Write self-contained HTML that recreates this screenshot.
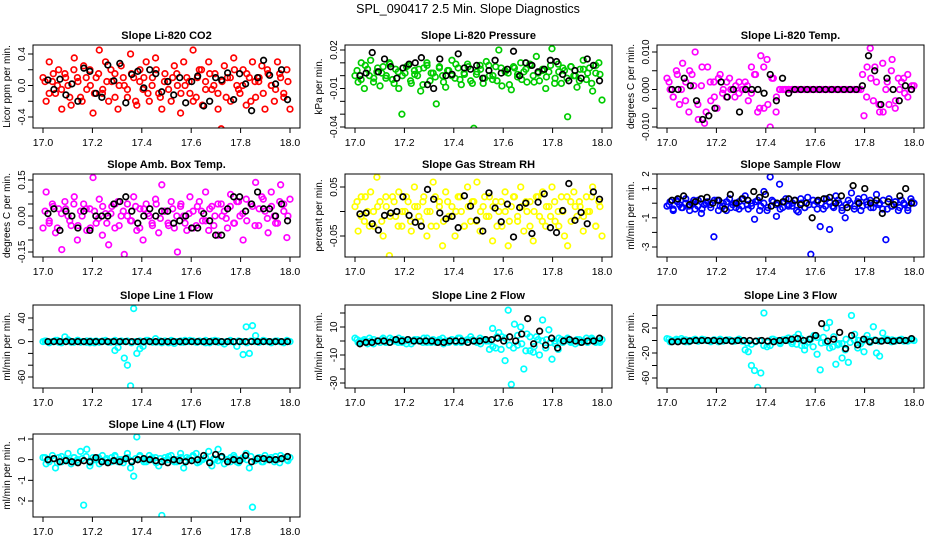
<!DOCTYPE html>
<html><head><meta charset="utf-8"><style>
body{margin:0;background:#fff}
svg{display:block;font-family:"Liberation Sans",sans-serif}
</style></head><body>
<svg id="chart" width="936" height="540">
<text x="468" y="13" text-anchor="middle" font-size="12.5">SPL_090417  2.5 Min. Slope Diagnostics</text>
</svg>
<script>
const xTicks=[17.0,17.2,17.4,17.6,17.8,18.0];
const xTickLabels=["17.0","17.2","17.4","17.6","17.8","18.0"];

const co2Vals=[0.1,-0.2,0.3,0.05,-0.1,0.2,-0.3,0.15,0,-0.25,0.35,0.1,-0.15,0.25,-0.05,0.2,-0.35,0.1,0.45,-0.1,0.3,-0.2,0.05,0.15,-0.3,0.25,0,-0.15,0.4,0.1,-0.25,0.2,-0.05,0.3,-0.2,0.1,0.35,-0.1,-0.3,0.15,0.05,-0.2,0.25,0,-0.35,0.3,0.1,-0.1,0.45,-0.15,0.2,-0.25,0.05,0.3,-0.05,0.15,-0.3,-0.55,0.25,0.1,-0.2,0.35,0,-0.1,0.2,-0.25,0.1,0.3,-0.15,0.05,0.25,-0.3,0.15,0,-0.2,0.3,0.1,-0.1,0.2,-0.3];
const co2Core=[0.05,-0.1,0.15,0,-0.05,0.1,-0.15,0.2,0.05,-0.2,0.1,0,-0.1,0.15,-0.05,0.05,0.2,-0.15,0,0.1,-0.05,0.15,-0.2,0.05,0.1,-0.1,0,0.2,-0.15,0.05,-0.05,0.1,0.15,-0.1,0,0.05,-0.2,0.1,0.2,-0.05,0.15,0,-0.1,0.05,-0.15,0.1,0.2,-0.05,0,0.15,-0.2,0.05,0.1,-0.1,0.2,0,-0.05,0.15,-0.15,0.05];
const co2Black=[0.07,-0.05,0.08,-0.12,0.02,-0.2,0.22,0.18,-0.1,-0.15,0.26,0.06,0.28,-0.22,0.14,0.18,-0.03,0.2,0.15,-0.08,0.05,-0.12,0.1,-0.22,0.05,0.12,-0.26,-0.2,0.1,0.07,0.16,-0.18,0.15,0.02,-0.32,0.1,0.32,0.13,0.02,0.2,-0.18];

const presVals=[0.0,-0.005,0.01,-0.01,0.005,0.012,-0.002,0.003,-0.008,0.007,0.0,0.01,-0.003,0.005,-0.01,-0.03,0.002,0.008,-0.006,0.004,0.0,-0.012,0.006,0.01,-0.004,0.002,-0.022,0.007,0.0,-0.009,0.004,0.012,-0.002,0.006,-0.007,0.001,0.009,-0.004,-0.041,0.003,0.008,-0.006,0.011,0.0,-0.003,0.007,0.02,-0.008,0.004,0.002,-0.011,0.006,-0.001,0.01,0.003,-0.005,0.008,0.0,0.015,-0.004,0.005,-0.01,0.003,0.021,-0.002,0.009,-0.006,0.004,-0.032,0.007,0.0,-0.009,0.005,0.012,-0.003,0.006,-0.012,0.002,0.01,-0.019];
const presCore=[0.004,-0.003,0.008,0.0,-0.005,0.006,0.002,-0.002,0.009,-0.006,0.003,0.0,0.007,-0.004,0.001,0.005,-0.007,0.008,0.002,-0.001,0.006,-0.005,0.004,0.0,0.009,-0.003,0.002,0.007,-0.006,0.001,0.005,-0.002,0.008,0.0,-0.004,0.006,0.003,-0.007,0.007,0.001,-0.003,0.005,0.009,-0.005,0.002,0.004,-0.001,0.008,-0.006,0.003,0.006,-0.002,0.007,0.0,-0.004,0.005,0.002,-0.006,0.008,0.001];
const presBlack=[0.0,0.002,0.018,0.003,0.013,0.007,-0.002,0.006,0.009,0.01,0.014,-0.007,-0.01,0.013,0.0,0.001,0.017,0.006,0.005,0.008,-0.002,0.004,0.012,0.002,0.005,0.019,0.0,0.01,0.008,0.003,0.005,0.012,0.011,0.001,-0.004,0.004,-0.002,0.013,0.008,-0.004];

const tempVals=[0.003,0.0,-0.002,0.005,-0.004,0.007,0.002,-0.006,0.004,0.01,-0.008,0.001,-0.009,0.006,-0.003,0.002,-0.005,0.004,0.0,-0.002,0.003,0.0,0.001,-0.001,0.0,0.002,-0.003,0.006,0.004,-0.006,0.009,-0.005,0.008,-0.01,0.003,-0.002,0,0,0,0,0,0,0,0,0,0,0,0,0,0,0,0,0,0,0,0,0,0,0,0,0,0,0.0,-0.007,0.006,0.011,-0.003,0.002,-0.006,0.007,0.0,-0.004,0.008,-0.005,0.003,0.002,-0.001,0.004,0.0,0.001];
const tempCore=[0.002,-0.002,0.004,0.0,-0.003,0.005,0.001,-0.004,0.006,-0.006,0.002,-0.002,0.003,-0.001,0.002,0.0,-0.002,0.002,0.0,0.001,-0.001,0.004,-0.005,0.006,-0.004,0.003,-0.006,0,0,0,0,0,0,0,0,0,0,0,0,0,0,0,0,0,0,0,0,0.004,-0.002,0.003,0.006,-0.004,-0.006,0.002,0.005,-0.003,0.0,0.003,-0.002,0.001];
const tempBlack=[0,0,0.003,0.001,-0.003,-0.008,-0.007,-0.005,0.002,-0.002,0,-0.006,0,0,0,-0.001,0.004,-0.003,0.003,-0.001,0,0,0,0,0,0,0,0,0,0,0,0.001,0.009,0.005,-0.004,0.003,0,-0.003,0.001,0];

const ambVals=[-0.05,0.1,-0.02,0.05,-0.07,0.03,-0.14,0.06,0.0,-0.04,0.08,-0.1,0.02,0.05,-0.06,0.03,0.16,-0.03,0.07,-0.08,0.01,-0.12,0.04,-0.05,0.06,0.0,-0.16,0.05,-0.02,0.08,-0.06,0.03,-0.1,0.05,0.0,-0.04,0.07,-0.07,0.13,0.02,-0.03,0.06,-0.05,-0.15,0.04,0.0,-0.06,0.08,0.02,-0.04,0.06,-0.02,0.1,-0.06,0.04,0.0,-0.08,0.05,0.02,-0.05,0.09,-0.03,0.06,0.0,-0.1,0.07,-0.2,0.04,0.14,-0.04,0.08,0.02,-0.07,0.1,0.0,-0.03,0.13,0.05,-0.09,0.07];
const ambCore=[0.02,-0.03,0.04,-0.05,0.01,0.03,-0.02,0.05,-0.04,0.0,0.03,-0.05,0.02,-0.01,0.04,-0.03,0.01,0.05,-0.04,0.02,0.0,-0.02,0.04,-0.05,0.03,0.01,-0.03,0.05,-0.01,0.02,-0.04,0.03,0.0,0.05,-0.03,0.01,-0.05,0.04,0.02,-0.02,0.03,-0.04,0.05,0.0,-0.01,0.04,-0.03,0.06,0.01,-0.02,0.05,-0.04,0.03,0.07,-0.01,0.04,-0.03,0.06,0.02,0.0];
const ambBlack=[0.01,0.03,-0.06,0.02,0.0,-0.05,0.02,-0.06,0.0,0.0,0.0,0.05,0.06,0.08,0.02,-0.03,0.0,0.03,0.0,0.02,0.02,-0.03,-0.02,0.0,-0.05,-0.05,0.01,-0.02,-0.08,-0.08,0.03,0.08,0.08,0.02,0.05,0.1,0.03,0.03,0.0,0.05,-0.02];

const rhVals=[0.01,-0.04,0.03,-0.02,0.0,0.04,-0.03,0.07,0.02,-0.05,0.01,-0.09,0.03,-0.01,0.04,-0.03,0.0,0.02,-0.04,0.05,0.01,-0.02,0.03,-0.05,0.0,0.06,-0.03,0.02,-0.07,0.04,-0.01,0.01,-0.05,0.03,0.0,-0.03,0.05,-0.02,0.02,0.06,-0.04,0.01,-0.01,0.03,-0.06,0.02,0.0,-0.03,0.04,-0.07,0.01,0.03,-0.02,0.05,-0.04,0.0,0.02,-0.06,0.03,-0.01,0.04,-0.03,0.01,0.05,-0.02,0.0,0.03,-0.05,-0.07,0.02,0.04,-0.01,0.01,-0.04,0.03,0.0,0.05,-0.03,0.02,-0.05];
const rhCore=[0.02,-0.01,0.03,-0.03,0.0,0.01,-0.02,0.03,-0.01,0.02,-0.03,0.0,0.03,-0.02,0.01,-0.01,0.02,0.0,-0.03,0.03,0.01,-0.02,0.02,-0.01,0.0,0.03,-0.03,0.01,0.02,-0.02,0.0,0.03,-0.01,0.01,-0.03,0.02,0.0,-0.02,0.03,-0.01,0.01,0.02,-0.03,0.0,0.03,-0.02,0.01,-0.01,0.02,-0.03,0.0,0.03,-0.02,0.01,0.02,-0.01,0.0,0.03,-0.03,0.01];
const rhBlack=[-0.005,-0.003,-0.025,-0.038,-0.008,-0.003,0.0,0.03,-0.008,-0.022,-0.03,0.045,0.025,-0.003,-0.015,-0.01,-0.033,0.032,0.011,-0.018,-0.04,0.038,0.007,-0.021,0.015,-0.052,0.008,0.017,-0.045,0.019,0.036,-0.033,-0.043,0.002,0.057,-0.018,-0.002,-0.025,0.04,0.025];

const sampVals=[-0.2,0.1,-0.5,0.2,-0.1,-0.3,0.3,-0.2,0.0,-0.4,0.2,-0.7,-0.1,0.1,-0.3,-2.3,0.2,-0.2,0.0,-0.5,0.3,-0.1,-0.3,0.1,-0.2,0.5,-0.4,0.0,-1.1,0.2,-0.2,0.8,-0.5,1.8,0.1,-0.9,1.3,-0.3,0.3,-0.1,-0.2,0.2,-0.6,0.0,-0.3,0.4,-3.5,-0.1,0.1,-1.6,-0.4,0.3,-1.8,-0.2,0.5,0.0,-0.3,-1.0,0.2,0.7,-0.2,0.1,-0.5,0.4,-0.1,0.2,-0.3,0.6,0.0,-0.4,-2.5,0.3,-0.2,0.1,-0.5,0.2,-0.1,-0.3,0.3,0.0];
const sampCore=[-0.1,-0.4,0.1,-0.3,0.0,-0.5,0.2,-0.2,-0.4,0.0,-0.1,0.2,-0.5,-0.2,0.1,-0.3,0.0,-0.4,0.3,-0.1,-0.2,0.1,-0.5,0.0,-0.3,0.2,-0.1,-0.4,0.1,-0.2,0.0,-0.5,0.3,-0.3,-0.1,0.2,-0.4,0.0,-0.2,0.1,-0.3,0.2,-0.5,-0.1,0.0,-0.4,0.3,-0.2,0.1,-0.3,0.0,-0.1,0.2,-0.4,-0.2,0.1,-0.3,0.0,-0.5,0.1];
const sampBlack=[0.2,0.3,0.5,-0.1,0.1,0.3,0.4,0.0,0.2,-0.4,0.6,0.0,0.3,0.2,0.8,0.4,0.6,-0.2,0.0,0.1,0.3,0.2,-0.1,0.0,-1.0,0.2,0.3,0.4,0.0,0.5,-0.3,1.2,0.0,1.0,0.0,0.2,-0.7,0.1,-0.1,0.5,1.0,0.0];

const line1Vals=[0,1,-2,0,2,-1,0,8,3,-1,0,2,-1,0,1,-2,0,1,-1,0,2,-1,0,-15,-10,1,-28,-40,-75,56,-20,-12,-8,2,0,-1,5,0,-2,1,0,2,-3,0,1,-1,0,2,0,-1,1,0,-2,0,1,2,-1,0,-4,0,0,0,-8,0,-22,25,-20,27,10,-1,0,1,0,-2,0,1,0,-1,2,0];
const line1Core=[1,-1,0,2,-2,0,1,-1,2,0,-1,1,-2,0,1,0,-1,2,-1,0,1,-2,0,1,-1,2,0,-1,1,0,-2,1,0,-1,2,0,1,-1,0,2,-2,0,1,-1,0,2,-1,1,0,-2,1,0,-1,2,0,-1,1,0,-2,1];
const line1Black=[0,0,0,0,0,0,0,0,0,0,0,0,0,0,0,0,0,0,0,0,0,0,0,0,0,0,0,0,0,0,0,0,0,0,0,0,0,0,0,0,0];

const line2Vals=[2,-1,0,1,-2,0,1,0,-1,2,0,-1,1,0,2,-1,0,1,-2,0,1,0,2,-1,0,1,-1,0,2,0,-1,1,0,2,-1,0,1,3,0,-1,2,1,0,-6,9,-5,6,3,-14,22,-31,12,-3,10,-20,5,-7,-8,3,-10,15,-5,8,-13,-2,-6,1,0,2,-1,0,1,-1,0,2,0,1,-1,0,1];
const line2Core=[1,-1,0,2,-2,0,1,-1,2,0,-1,1,-2,0,1,0,-1,2,-1,0,1,-2,0,1,-1,2,0,-1,1,0,-2,1,0,-4,3,-6,2,-3,-5,4,-2,-7,3,-4,1,0,1,-1,0,2,-1,1,0,-2,1,0,-1,2,0,-1];
const line2Black=[-2,-1,-1,0,0,-1,1,0,1,0,0,0,0,-1,-1,0,0,0,-1,0,0,1,1,2,0,3,0,5,16,-2,7,-3,2,-5,0,1,0,-1,0,0,2];

const line3Vals=[3,-2,0,2,-1,0,1,-2,0,2,-1,0,1,0,-2,1,0,2,-1,0,1,-1,0,2,-1,-15,-18,-40,-48,-75,-52,44,-10,-8,2,0,-3,1,2,0,-5,5,10,-8,-15,-3,2,8,-22,-47,5,20,29,-10,-38,-5,-28,-15,-35,40,10,-12,-5,-18,8,-3,22,-20,-25,12,2,0,1,-1,0,2,0,-1,1,0];
const line3Core=[2,-1,0,3,-2,0,1,-1,2,0,-1,1,-2,0,1,0,-1,2,-1,-4,-6,-2,0,-8,-3,2,0,-5,1,4,-2,-6,3,-8,2,-10,5,-4,-3,-12,6,-7,-5,2,-3,1,0,-1,2,0,1,-1,0,2,-2,0,1,-1,0,1];
const line3Black=[-2,-2,-1,-1,0,0,0,0,-1,0,-1,0,0,0,-1,0,-1,-2,0,0,2,3,0,2,8,27,-1,2,13,-13,8,-7,2,-2,0,-1,0,-1,0,0,3];

const line4Vals=[0.1,-0.2,0.0,0.2,-0.4,0.1,-0.1,0.0,0.3,-0.2,0.1,0.0,0.4,-2.2,0.5,-0.3,0.1,0.0,-0.2,0.2,0.0,-0.1,0.1,0.2,-0.1,0.0,0.0,0.3,-0.4,-0.8,1.1,0.2,0.0,-0.1,0.2,0.0,0.1,-0.3,-2.7,0.1,0.0,0.2,-0.1,0.0,0.3,-0.4,0.1,0.0,0.2,0.3,-0.1,0.0,0.1,0.4,-0.3,0.0,0.5,0.1,-0.2,0.0,0.1,0.2,-0.1,0.0,0.1,0.3,-0.4,-2.3,0.0,0.1,-0.1,0.2,0.0,0.1,-0.1,0.0,0.2,0.1,0.0,0.1];
const line4Core=[0.1,-0.1,0.05,-0.15,0.15,0.0,-0.05,0.1,-0.1,0.05,0.15,-0.15,0.0,0.1,-0.05,0.05,-0.1,0.15,0.0,-0.15,0.1,-0.05,0.05,0.15,-0.1,0.0,0.1,-0.15,0.05,-0.05,0.15,0.0,-0.1,0.1,-0.05,0.05,0.15,-0.15,0.0,0.1,-0.1,0.05,-0.05,0.15,0.0,-0.1,0.1,-0.15,0.05,0.0,0.15,-0.05,0.1,-0.1,0.05,0.0,0.15,-0.15,0.1,-0.05];
const line4Black=[0.0,0.05,-0.1,-0.05,-0.1,-0.15,-0.05,-0.1,0.1,-0.1,-0.15,-0.05,-0.1,0.05,-0.1,0.0,0.05,0.0,-0.05,-0.1,-0.15,0.0,-0.05,-0.1,-0.05,0.0,0.2,-0.15,0.25,0.15,-0.1,0.0,-0.05,0.2,-0.1,0.05,0.05,0.0,0.0,0.05,0.15];

const NS="http://www.w3.org/2000/svg";
const svg=document.getElementById('chart');
function mk(tag,attrs,parent){const e=document.createElementNS(NS,tag);for(const k in attrs)e.setAttribute(k,attrs[k]);(parent||svg).appendChild(e);return e;}

const panels=[
 {c:0,r:0,t:"Slope Li-820 CO2",yl:"Licor ppm per min.",col:"#ff0000",v:co2Vals,k:co2Core,b:co2Black,v1:0.4,p1:54,v2:-0.4,p2:117,ticks:[-0.4,-0.2,0,0.2,0.4],labs:{"-0.4":"-0.4","0":"0.0","0.4":"0.4"}},
 {c:1,r:0,t:"Slope Li-820 Pressure",yl:"kPa per min.",col:"#00cc00",v:presVals,k:presCore,b:presBlack,v1:0.02,p1:50,v2:-0.04,p2:127,ticks:[-0.04,-0.03,-0.02,-0.01,0,0.01,0.02],labs:{"-0.04":"-0.04","-0.01":"-0.01","0.02":"0.02"}},
 {c:2,r:0,t:"Slope Li-820 Temp.",yl:"degrees C per min.",col:"#ff00ff",v:tempVals,k:tempCore,b:tempBlack,v1:0.01,p1:52,v2:-0.01,p2:127,ticks:[-0.01,-0.005,0,0.005,0.01],labs:{"-0.01":"-0.010","0":"0.000","0.01":"0.010"}},
 {c:0,r:1,t:"Slope Amb. Box Temp.",yl:"degrees C per min.",col:"#ff00ff",v:ambVals,k:ambCore,b:ambBlack,v1:0.15,p1:180,v2:-0.15,p2:252,ticks:[-0.15,-0.1,-0.05,0,0.05,0.1,0.15],labs:{"-0.15":"-0.15","0":"0.00","0.15":"0.15"}},
 {c:1,r:1,t:"Slope Gas Stream RH",yl:"percent per min.",col:"#ffff00",v:rhVals,k:rhCore,b:rhBlack,v1:0.05,p1:187,v2:-0.05,p2:236,ticks:[-0.05,0,0.05],labs:{"-0.05":"-0.05","0.05":"0.05"}},
 {c:2,r:1,t:"Slope Sample Flow",yl:"ml/min per min.",col:"#0000ff",v:sampVals,k:sampCore,b:sampBlack,v1:2,p1:174,v2:-3,p2:247,ticks:[-3,-2,-1,0,1,2],labs:{"-3":"-3","-1":"-1","1":"1","2":"2"}},
 {c:0,r:2,t:"Slope Line 1 Flow",yl:"ml/min per min.",col:"#00ffff",v:line1Vals,k:line1Core,b:line1Black,v1:40,p1:318,v2:-60,p2:377,ticks:[-60,-40,-20,0,20,40],labs:{"-60":"-60","0":"0","40":"40"}},
 {c:1,r:2,t:"Slope Line 2 Flow",yl:"ml/min per min.",col:"#00ffff",v:line2Vals,k:line2Core,b:line2Black,v1:10,p1:327,v2:-30,p2:383,ticks:[-30,-20,-10,0,10,20],labs:{"-30":"-30","-10":"-10","10":"10"}},
 {c:2,r:2,t:"Slope Line 3 Flow",yl:"ml/min per min.",col:"#00ffff",v:line3Vals,k:line3Core,b:line3Black,v1:20,p1:328,v2:-60,p2:378,ticks:[-60,-40,-20,0,20,40],labs:{"-60":"-60","-20":"-20","20":"20"}},
 {c:0,r:3,t:"Slope Line 4 (LT) Flow",yl:"ml/min per min.",col:"#00ffff",v:line4Vals,k:line4Core,b:line4Black,v1:1,p1:439,v2:-2,p2:501,ticks:[-2,-1,0,1],labs:{"-2":"-2","-1":"-1","0":"0","1":"1"}}
];
const rowTops=[45,174,305,434];
const boxH=83;
panels.forEach(p=>{
  const x0=43+p.c*312, x1=x0+247;
  const top=rowTops[p.r], bot=top+boxH, left=x0-10, right=x1+10;
  const xs=v=>x0+(v-17)*(x1-x0);
  const ys=v=>p.p1+(v-p.v1)*(p.p2-p.p1)/(p.v2-p.v1);
  const g=mk('g',{});
  
  
  const tt=mk('text',{x:(left+right)/2,y:top-6,'text-anchor':'middle','font-size':'11','font-weight':'bold'},g);
  tt.textContent=p.t;
  
  
  const clip='clip'+p.c+p.r;
  const cp=mk('clipPath',{id:clip},g);mk('rect',{x:left,y:top,width:right-left,height:boxH},cp);
  const pts=mk('g',{'clip-path':'url(#'+clip+')',fill:'none','stroke-width':'1.7'},g);
  
  
  p.k.forEach((v,i)=>{
    const c=mk('circle',{cx:xs(17+(i+0.5)/p.k.length),cy:ys(v),r:2.8,stroke:p.col},pts);
    
    
  });
  p.v.forEach((v,i)=>{
    const c=mk('circle',{cx:xs(17+i/(p.v.length-1)),cy:ys(v),r:2.8,stroke:p.col},pts);
    
    
  });
  p.b.forEach((v,i)=>{
    const c=mk('circle',{cx:xs(17.02+0.97*i/(p.b.length-1)),cy:ys(v),r:2.8,stroke:'#000'},pts);
    
    
  });
  const box=mk('rect',{x:left,y:top,width:right-left,height:boxH,fill:'none',stroke:'#000','stroke-width':'1'},g);
  
  
  xTicks.forEach((t,i)=>{
    const x=xs(t);
    mk('line',{x1:x,x2:x,y1:bot,y2:bot+5,stroke:'#000'},g);
    const lt=mk('text',{x:x,y:bot+18,'text-anchor':'middle','font-size':'10.5'},g);
    lt.textContent=xTickLabels[i];
    
    
  });
  p.ticks.forEach(t=>{
    const y=ys(t);
    mk('line',{x1:left-5,x2:left,y1:y,y2:y,stroke:'#000'},g);
    const key=String(t);
    if(p.labs[key]!==undefined){
      const lt=mk('text',{transform:'translate('+(left-8)+','+y+') rotate(-90)','text-anchor':'middle','font-size':'10'},g);
      lt.textContent=p.labs[key];
      
      
    }
  });
  const yt=mk('text',{transform:'translate('+(left-23)+','+((top+bot)/2)+') rotate(-90)','text-anchor':'middle','font-size':'10'},g);
  yt.textContent=p.yl;
  
  
});
</script>
</body></html>
